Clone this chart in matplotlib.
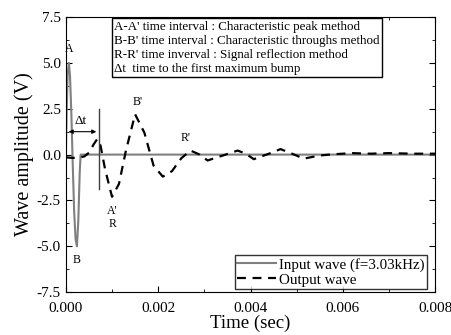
import numpy as np
import matplotlib
matplotlib.use("Agg")
import matplotlib.pyplot as plt
from matplotlib.ticker import MultipleLocator

plt.rcParams['font.family'] = ['Liberation Serif', 'DejaVu Serif']

# input wave (gray)
t_in = [0, 0.00002, 0.00004, 0.000065, 0.00009, 0.00012, 0.00015, 0.00018,
        0.00021, 0.00024, 0.00027, 0.0003, 0.00032, 0.008]
v_in = [0, 2.6, 4.4, 5.0, 4.3, 2.2, -0.6, -3.1, -4.6, -5.0, -3.6, -1.0, 0, 0]

# output wave (dashed)
t_out = [0, 0.00015, 0.0003, 0.0004, 0.0005, 0.0006, 0.00068, 0.00075, 0.00085,
         0.001, 0.00115, 0.0013, 0.0015, 0.0017, 0.0019, 0.0021, 0.0023, 0.0025,
         0.0027, 0.0029, 0.00307, 0.0034, 0.00372, 0.0039, 0.00407, 0.0044,
         0.00465, 0.0049, 0.00515, 0.0055, 0.0058, 0.0062, 0.0066, 0.007, 0.0075, 0.008]
v_out = [-0.15, -0.18, -0.15, -0.1, 0.1, 0.55, 0.85, 0.5, -0.8,
         -2.3, -1.6, 0.2, 2.2, 1.2, -0.6, -1.2, -0.9, -0.2,
         0.22, 0.0, -0.32, -0.05, 0.22, 0.05, -0.25, 0.05,
         0.3, 0.05, -0.22, -0.05, 0.02, 0.08, 0.05, 0.08, 0.05, 0.05]

info_lines = ["A-A' time interval : Characteristic peak method",
              "B-B' time interval : Characteristic throughs method",
              "R-R' time inverval : Signal reflection method",
              "\u0394t  time to the first maximum bump"]

fig = plt.figure(figsize=(4.51, 3.35), dpi=100)
ax = fig.add_axes([0.146, 0.128, 0.819, 0.821])

ax.plot(t_in, v_in, color='#808080', lw=1.5, label='Input wave (f=3.03kHz)')
ax.plot(t_out, v_out, color='black', lw=1.6, dashes=(4, 3), label='Output wave')

ax.set_xlim(0, 0.008)
ax.set_ylim(-7.5, 7.5)
ax.xaxis.set_major_locator(MultipleLocator(0.002))
ax.xaxis.set_minor_locator(MultipleLocator(0.001))
ax.yaxis.set_major_locator(MultipleLocator(2.5))
ax.yaxis.set_minor_locator(MultipleLocator(1.25))
ax.xaxis.set_major_formatter(matplotlib.ticker.FormatStrFormatter('%.3f'))
ax.yaxis.set_major_formatter(matplotlib.ticker.FormatStrFormatter('%.1f'))
ax.tick_params(which='both', direction='in', top=True, right=True, labelsize=11)
ax.tick_params(axis='x', pad=7)
ax.tick_params(which='major', length=4)
ax.tick_params(which='minor', length=2.5)

ax.set_xlabel('Time (sec)', fontsize=13.5, labelpad=0)
ax.set_ylabel('Wave amplitude (V)', fontsize=14.5, labelpad=2)

# Δt marker
ax.plot([0.00072, 0.00072], [2.5, -1.9], color='#404040', lw=1.0)
ax.annotate('', xy=(0.00072, 1.25), xytext=(0, 1.25),
            arrowprops=dict(arrowstyle='<|-|>', color='black', lw=0.8,
                            mutation_scale=6))
ax.text(0.00032, 1.5, '\u0394t', fontsize=9.5, ha='center', va='bottom')

ax.text(0.00008, 5.45, 'A', fontsize=8.5, ha='center', va='bottom')
ax.text(0.00024, -5.4, 'B', fontsize=8.5, ha='center', va='top')
ax.text(0.00101, -2.75, "A'", fontsize=8.5, ha='center', va='top')
ax.text(0.00101, -3.45, "R", fontsize=8.5, ha='center', va='top')
ax.text(0.00155, 2.55, "B'", fontsize=8.5, ha='center', va='bottom')
ax.text(0.0026, 0.6, "R'", fontsize=8.5, ha='center', va='bottom')

ax.text(0.00105, 7.3, "\n".join(info_lines), fontsize=9.4, ha='left', va='top',
        linespacing=1.22,
        bbox=dict(boxstyle='square,pad=0.2', fc='white', ec='black', lw=1.0))

leg = ax.legend(loc='lower right', bbox_to_anchor=(0.978, 0.012), fontsize=10.8,
                frameon=True, fancybox=False, edgecolor='black', borderpad=0.15,
                labelspacing=0.1, handlelength=2.6, handletextpad=0.2,
                borderaxespad=0)
leg.get_frame().set_linewidth(1.0)

fig.savefig('out.png', dpi=100)
